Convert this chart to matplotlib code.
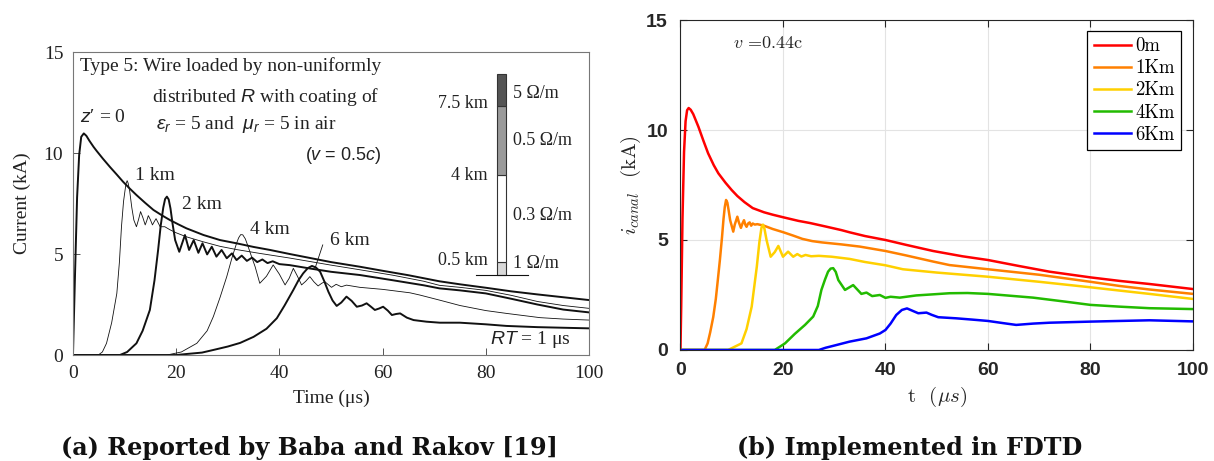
import numpy as np
import matplotlib
matplotlib.use("Agg")
import matplotlib.pyplot as plt
from matplotlib.font_manager import FontProperties

plt.rcParams['mathtext.fontset'] = 'custom'
plt.rcParams['mathtext.rm'] = 'Liberation Serif'
plt.rcParams['mathtext.it'] = 'Liberation Sans:italic'
plt.rcParams['mathtext.bf'] = 'Liberation Sans:bold'

# ---- (a) Baba & Rakov, currents at several heights (kA vs us) ----
z0_t = [0, 0.4, 0.8, 1.2, 1.6, 2.1, 2.6, 3.2, 4.0, 4.6, 5.8, 7.2, 8.5, 9.7, 11, 12.3, 14,
        15.6, 17.2, 18.8, 20.4, 22, 25.3, 28.5, 31.7, 35, 38.2, 42, 46, 50, 55.6, 60, 65, 71,
        75, 80, 85, 90, 95, 100]
z0_i = [0, 4.0, 7.8, 9.9, 10.8, 10.97, 10.85, 10.6, 10.3, 10.1, 9.72, 9.3, 8.93, 8.58, 8.24,
        7.92, 7.53, 7.18, 6.92, 6.68, 6.47, 6.27, 5.94, 5.69, 5.53, 5.35, 5.2, 5.0, 4.8, 4.6,
        4.37, 4.17, 3.95, 3.65, 3.5, 3.33, 3.15, 3.0, 2.86, 2.72]

k1_t = [0, 4.9, 5.7, 6.5, 7.5, 8.5, 9.0, 9.4, 9.8, 10.1, 10.3, 10.5, 10.7, 11.0, 11.4, 11.8,
        12.3, 12.7, 13.1, 13.55, 14.0, 14.3, 14.6, 15.0, 15.4, 15.75, 16.1, 16.5, 16.9, 17.8,
        18.8, 20, 22, 25.3, 28.5, 31.7, 36.2, 42, 50, 55.6, 62, 68, 71, 75, 80, 85, 90, 95, 100]
k1_i = [0, 0, 0.15, 0.58, 1.6, 3.05, 4.6, 6.35, 7.6, 8.17, 8.5, 8.63, 8.5, 8.1, 7.3, 6.68,
        6.35, 6.7, 7.1, 6.8, 6.44, 6.65, 6.9, 6.7, 6.44, 6.6, 6.75, 6.55, 6.35, 6.35, 6.2,
        6.05, 5.85, 5.6, 5.38, 5.22, 5.03, 4.8, 4.45, 4.22, 3.95, 3.65, 3.45, 3.35, 3.2, 2.95,
        2.65, 2.45, 2.31]

k2_t = [0, 9.1, 10.5, 12.3, 13.5, 14.9, 15.8, 16.5, 17.0, 17.5, 17.85, 18.2, 18.55, 18.9,
        19.3, 19.8, 20.6, 21.7, 22.5, 23.4, 24.3, 25.1, 26.0, 26.9, 27.8, 28.8, 29.8, 30.8,
        31.7, 32.7, 33.7, 34.7, 35.7, 36.7, 37.7, 38.7, 40, 42, 46, 50, 55.6, 62, 68, 71, 75,
        80, 85, 90, 95, 100]
k2_i = [0, 0, 0.15, 0.58, 1.2, 2.23, 3.7, 5.2, 6.4, 7.3, 7.72, 7.84, 7.7, 7.25, 6.5, 5.69,
        5.11, 5.94, 5.2, 5.69, 5.06, 5.53, 4.98, 5.36, 4.87, 5.2, 4.79, 5.03, 4.7, 4.92, 4.66,
        4.82, 4.6, 4.73, 4.55, 4.64, 4.5, 4.45, 4.28, 4.12, 3.96, 3.7, 3.45, 3.3, 3.2, 3.05,
        2.78, 2.5, 2.25, 2.11]

k4_t = [0, 18.2, 21, 24, 26, 27.2, 28.5, 29.8, 30.8, 31.7, 32.1, 32.5, 32.9, 33.4, 33.9,
        34.5, 35.3, 36.2, 37.5, 38.8, 40, 41.1, 41.9, 42.7, 43.5, 44.3, 45.1, 45.9, 46.7, 47.5,
        48.2, 48.8, 49.5, 50.1, 51, 52, 53, 55.6, 60, 65.3, 67.2, 71, 75, 80, 84, 90.5, 95, 100]
k4_i = [0, 0, 0.15, 0.58, 1.2, 1.9, 2.85, 3.88, 4.8, 5.53, 5.8, 5.96, 5.95, 5.75, 5.4, 4.95,
        4.37, 3.55, 3.9, 4.46, 4.0, 3.47, 3.8, 4.29, 3.9, 3.47, 3.65, 3.88, 3.62, 3.42, 3.55,
        3.63, 3.48, 3.35, 3.5, 3.38, 3.46, 3.35, 3.25, 3.08, 2.97, 2.72, 2.45, 2.2, 2.06, 1.85,
        1.78, 1.73]

k6_t = [0, 20, 22, 25, 27.2, 30, 32.4, 35, 37.5, 39.5, 41, 42.7, 43.7, 44.6, 45.5, 46.3, 47.1,
        47.9, 48.7, 49.5, 50.3, 51.1, 52, 53, 54, 55, 56, 56.9, 57.7, 58.5, 59.3, 60.1, 61,
        61.8, 62.6, 63.4, 64.7, 66, 68.5, 71.1, 75, 80, 84, 90, 95, 100]
k6_i = [0, 0, 0.05, 0.12, 0.25, 0.42, 0.6, 0.9, 1.3, 1.82, 2.45, 3.22, 3.7, 4.04, 4.3, 4.41,
        4.33, 4.12, 3.65, 3.13, 2.7, 2.43, 2.6, 2.89, 2.68, 2.39, 2.45, 2.56, 2.4, 2.23, 2.3,
        2.39, 2.2, 1.98, 2.03, 2.06, 1.85, 1.73, 1.65, 1.6, 1.6, 1.52, 1.44, 1.38, 1.35, 1.32]

# resistance profile sketch (inset of panel a)
seg_labels_left = ['7.5 km', '4 km', '0.5 km']
seg_labels_right = ['5 Ω/m', '0.5 Ω/m', '0.3 Ω/m', '1 Ω/m']
seg_colors = ['#d9d9d9', '#ffffff', '#9a9a9a', '#545454']

# ---- (b) FDTD results ----
m0_t = [0, 0.15, 0.4, 0.7, 1.0, 1.3, 1.6, 2.0, 2.5, 3.5, 4.5, 5.4, 6.5, 7.4, 8.8, 10, 11.1,
        12.5, 14.1, 16.3, 18, 20.1, 23, 25.3, 28, 31.4, 33, 36, 40, 44, 49.3, 55, 60, 66, 72,
        80, 85.7, 91.5, 100]
m0_i = [0, 2, 6, 9, 10.4, 10.9, 11.0, 10.92, 10.72, 10.15, 9.5, 8.94, 8.4, 8.03, 7.6, 7.27,
        7.0, 6.72, 6.45, 6.26, 6.15, 6.03, 5.87, 5.77, 5.63, 5.45, 5.35, 5.18, 5.0, 4.78, 4.5,
        4.26, 4.09, 3.82, 3.56, 3.3, 3.14, 3.0, 2.77]

m1_t = [0, 4.7, 5.3, 5.8, 6.4, 6.9, 7.3, 7.7, 8.1, 8.4, 8.65, 8.9, 9.15, 9.4, 9.7, 10.3, 10.6,
        11.1, 11.4, 11.8, 12.1, 12.4, 12.65, 12.9, 13.2, 13.5, 13.8, 14.1, 14.5, 15, 16.3, 18,
        20.1, 22, 23.8, 25.7, 27.6, 31.4, 35, 40, 44, 49.3, 52.5, 60, 70, 80, 85.7, 91.5, 100]
m1_i = [0, 0, 0.3, 0.8, 1.5, 2.32, 3.2, 4.1, 5.1, 5.95, 6.5, 6.82, 6.7, 6.35, 5.9, 5.38, 5.7,
        6.06, 5.8, 5.55, 5.75, 5.9, 5.7, 5.6, 5.75, 5.8, 5.65, 5.75, 5.7, 5.72, 5.65, 5.5,
        5.35, 5.2, 5.05, 4.95, 4.89, 4.8, 4.7, 4.5, 4.3, 4.02, 3.86, 3.67, 3.42, 3.1, 2.91,
        2.75, 2.55]

m2_t = [0, 9.3, 11.9, 12.9, 13.9, 14.9, 15.4, 15.8, 16.1, 16.4, 16.8, 17.6, 18.4, 19.1, 20,
        21, 22, 22.8, 23.6, 24.4, 25.5, 27, 29.5, 33, 36, 40, 43.4, 50, 60, 70, 80, 85.7,
        91.5, 100]
m2_i = [0, 0, 0.3, 0.95, 1.97, 3.79, 4.9, 5.55, 5.7, 5.5, 5.0, 4.24, 4.45, 4.73, 4.24, 4.47,
        4.24, 4.36, 4.25, 4.32, 4.26, 4.28, 4.24, 4.14, 4.0, 3.85, 3.67, 3.52, 3.33, 3.1, 2.85,
        2.7, 2.55, 2.32]

m4_t = [0, 18.4, 20.4, 22.3, 24.3, 25.9, 26.8, 27.5, 28.2, 28.8, 29.3, 29.8, 30.3, 30.8, 32.1,
        33.7, 35.3, 36.3, 37.4, 38.9, 40, 41, 42.8, 46, 49.3, 52.5, 56, 60, 68.8, 75, 80, 85.7,
        91.5, 100]
m4_i = [0, 0, 0.3, 0.73, 1.14, 1.52, 2.0, 2.73, 3.2, 3.56, 3.7, 3.72, 3.55, 3.18, 2.73, 2.95,
        2.55, 2.61, 2.45, 2.5, 2.37, 2.42, 2.38, 2.48, 2.53, 2.58, 2.59, 2.55, 2.38, 2.2, 2.05,
        1.97, 1.9, 1.86]

m6_t = [0, 27, 28.3, 30, 33, 36.3, 38.9, 40, 41, 42.1, 43.2, 44.2, 45.3, 46.4, 48, 49, 50.3,
        53.8, 57, 60, 63, 65.5, 68.8, 72, 80, 85.7, 91.5, 100]
m6_i = [0, 0, 0.1, 0.2, 0.38, 0.53, 0.75, 0.91, 1.2, 1.59, 1.82, 1.89, 1.78, 1.67, 1.7, 1.6,
        1.49, 1.44, 1.38, 1.32, 1.22, 1.14, 1.2, 1.24, 1.29, 1.32, 1.35, 1.3]

fdtd_labels = ['0m', '1Km', '2Km', '4Km', '6Km']
fdtd_colors = ['#ff0000', '#ff8000', '#ffd000', '#22bb00', '#0000ff']

fig = plt.figure(figsize=(12.14, 4.61), dpi=100)
serif = 'Liberation Serif'

# ---------------- panel (a) ----------------
ax1 = fig.add_axes([0.0601, 0.2299, 0.4251, 0.6573])
for t, i, lw in [(z0_t, z0_i, 1.4), (k1_t, k1_i, 0.6), (k2_t, k2_i, 1.4),
                 (k4_t, k4_i, 0.6), (k6_t, k6_i, 1.4)]:
    ax1.plot(t, i, color='#111111', lw=lw)

ax1.set_xlim(0, 100)
ax1.set_ylim(0, 15)
ax1.set_xticks([0, 20, 40, 60, 80, 100])
ax1.set_yticks([0, 5, 10, 15])
ax1.tick_params(direction='in', length=5, width=0.7, color='#555555', labelsize=14,
                labelcolor='#222222', pad=7)
for lab in ax1.get_xticklabels() + ax1.get_yticklabels():
    lab.set_family(serif)
for sp in ax1.spines.values():
    sp.set_color('#777777')
    sp.set_linewidth(0.8)
ax1.set_xlabel('Time (μs)', family=serif, fontsize=14, color='#222222', labelpad=6)
ax1.set_ylabel('Current (kA)', family=serif, fontsize=14, color='#222222', labelpad=9)

tk = dict(family=serif, fontsize=14, color='#222222', va='center')
ax1.text(1.4, 14.3, 'Type 5: Wire loaded by non-uniformly', **tk)
ax1.text(15.3, 12.75, r'distributed $R$ with coating of', **tk)
ax1.text(16.0, 11.4, r'$\varepsilon_r$ = 5 and  $\mu_r$ = 5 in air', **tk)
ax1.text(45.0, 9.9, r'($v$ = 0.5$c$)', family='Liberation Sans', fontsize=13,
         color='#222222', va='center')
ax1.text(1.4, 11.75, r"$z$′ = 0", **tk)
ax1.text(12.0, 8.91, '1 km', **tk)
ax1.text(21.1, 7.43, '2 km', **tk)
ax1.text(34.3, 6.22, '4 km', **tk)
ax1.text(49.8, 5.69, '6 km', **tk)
ax1.plot([46.9, 48.4], [4.29, 5.45], color='#111111', lw=0.6)
ax1.text(80.8, 0.78, r'$RT$ = 1 μs', **tk)

# resistance profile bar
bar_edges = [3.96, 4.59, 8.91, 12.34, 13.9]
ax1.bar([83.05] * 4, np.diff(bar_edges), bottom=bar_edges[:-1], width=1.9,
        color=seg_colors, edgecolor='#333333', linewidth=0.8)
ax1.plot([78.1, 88.1], [3.96, 3.96], color='#111111', lw=0.8)
for lab, y in zip(seg_labels_left, [12.43, 8.88, 4.70]):
    ax1.text(80.4, y, lab, ha='right', family=serif, fontsize=13, color='#222222',
             va='center')
for lab, y in zip(seg_labels_right, [12.95, 10.64, 6.93, 4.54]):
    ax1.text(85.3, y, lab, ha='left', family=serif, fontsize=13, color='#222222',
             va='center')

# ---------------- panel (b) ----------------
ax2 = fig.add_axes([0.5605, 0.2408, 0.4222, 0.7158])
fdtd = [(m0_t, m0_i), (m1_t, m1_i), (m2_t, m2_i), (m4_t, m4_i), (m6_t, m6_i)]
for (t, i), lab, c in zip(fdtd, fdtd_labels, fdtd_colors):
    ax2.plot(t, i, color=c, lw=1.8, label=lab)

ax2.set_xlim(0, 100)
ax2.set_ylim(0, 15)
ax2.set_xticks([0, 20, 40, 60, 80, 100])
ax2.set_yticks([0, 5, 10, 15])
ax2.grid(True, color='#e3e3e3', lw=0.8)
ax2.set_axisbelow(True)
ax2.tick_params(direction='in', length=5, width=0.8, color='#262626', labelsize=14,
                labelcolor='#262626', top=True, right=True, pad=9)
for lab in ax2.get_xticklabels() + ax2.get_yticklabels():
    lab.set_family('Liberation Sans')
    lab.set_fontweight('bold')
for sp in ax2.spines.values():
    sp.set_color('#262626')
    sp.set_linewidth(0.8)
ax2.set_xlabel(r't  ($\mu s$)', family='cmr10', math_fontfamily='cm', fontsize=15,
               color='#262626', labelpad=4)
ax2.set_ylabel(r'$i_{canal}$  (kA)', family='cmr10', math_fontfamily='cm', fontsize=15,
               color='#262626', labelpad=2)
ax2.text(10.2, 13.95, r'$v$ =0.44c', family='cmr10', math_fontfamily='cm', fontsize=13,
         color='#262626', va='center')
leg = ax2.legend(loc='upper right', bbox_to_anchor=(0.977, 0.967), borderaxespad=0,
                 prop=FontProperties(family='cmr10', size=13.5), handlelength=2.0,
                 handletextpad=0.2, labelspacing=0.22, borderpad=0.35,
                 fancybox=False, framealpha=1, edgecolor='black')
leg.get_frame().set_linewidth(0.9)

fig.text(0.2545, 0.013, '(a) Reported by Baba and Rakov [19]', ha='center',
         va='baseline', family='DejaVu Serif', fontweight='bold', fontsize=17.2,
         color='#111111')
fig.text(0.7496, 0.013, '(b) Implemented in FDTD', ha='center', va='baseline',
         family='DejaVu Serif', fontweight='bold', fontsize=17.2, color='#111111')

fig.savefig('out.png', dpi=100)
